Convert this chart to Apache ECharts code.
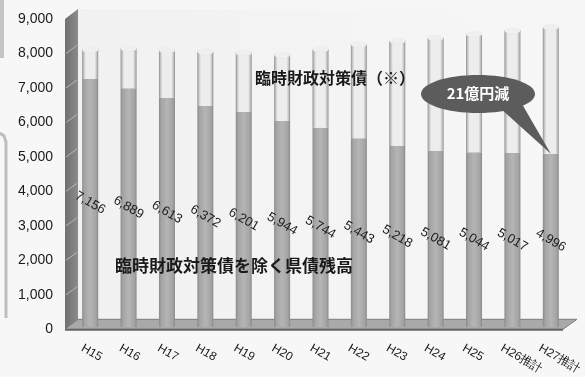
<!DOCTYPE html>
<html>
<head>
<meta charset="utf-8">
<script src="https://cdn.jsdelivr.net/npm/echarts@6/dist/echarts.min.js"></script>
<style>
  html, body { margin: 0; padding: 0; background: #f7f7f7; }
  #chart { width: 585px; height: 377px; }
</style>
</head>
<body>
<div id="chart"></div>
<script>
// Fiscal years (H = Heisei), with the last two being projections
const categories = ['H15', 'H16', 'H17', 'H18', 'H19', 'H20', 'H21', 'H22', 'H23', 'H24', 'H25', 'H26推計', 'H27推計'];
// Prefectural bond balance excluding temporary fiscal measure bonds (億円)
const baseDebt = [7156, 6889, 6613, 6372, 6201, 5944, 5744, 5443, 5218, 5081, 5044, 5017, 4996];
// Temporary fiscal measure bonds (臨時財政対策債)
const specialDebt = [854, 1151, 1387, 1578, 1719, 1916, 2276, 2717, 3042, 3269, 3416, 3543, 3664];
// Value axis ticks
const yMin = 0, yMax = 9000, yStep = 1000;

const totals = baseDebt.map((v, i) => v + specialDebt[i]);

const chart = echarts.init(document.getElementById('chart'), null, { renderer: 'canvas' });

const fontLatin = '"Liberation Sans", Arial, sans-serif';
const fontJa = '"Noto Sans CJK JP", sans-serif';

const darkFill = new echarts.graphic.LinearGradient(0, 0, 1, 0, [
  { offset: 0, color: '#8a8a8a' },
  { offset: 0.14, color: '#a4a4a4' },
  { offset: 0.5, color: '#b5b5b5' },
  { offset: 0.86, color: '#a4a4a4' },
  { offset: 1, color: '#8a8a8a' }
]);
const lightFill = new echarts.graphic.LinearGradient(0, 0, 1, 0, [
  { offset: 0, color: '#8e8e8e' },
  { offset: 0.1, color: '#c4c4c4' },
  { offset: 0.22, color: '#ededed' },
  { offset: 0.78, color: '#ededed' },
  { offset: 0.9, color: '#c4c4c4' },
  { offset: 1, color: '#8e8e8e' }
]);

chart.setOption({
  backgroundColor: '#f7f7f7',
  animation: false,
  grid: [
    // front face: carries the axis labels
    { left: 63, right: 23, top: 19, bottom: 45 },
    // depth plane where the cylinders stand
    { left: 71, right: 15, top: 15, bottom: 50 }
  ],
  xAxis: [
    {
      gridIndex: 0, type: 'category', data: categories,
      axisLine: { show: false }, axisTick: { show: false },
      axisLabel: {
        rotate: -30, margin: 18, interval: 0,
        color: '#1a1a1a', fontSize: 12, fontFamily: fontLatin
      }
    },
    {
      gridIndex: 1, type: 'category', data: categories,
      axisLine: { show: false }, axisTick: { show: false }, axisLabel: { show: false }
    }
  ],
  yAxis: [
    {
      gridIndex: 0, type: 'value', min: yMin, max: yMax, interval: yStep,
      axisLine: { show: false }, axisTick: { show: false }, splitLine: { show: false },
      axisLabel: {
        margin: 10, color: '#1a1a1a', fontSize: 14, fontFamily: fontLatin,
        formatter: v => v.toLocaleString('en-US')
      }
    },
    {
      gridIndex: 1, type: 'value', min: yMin, max: yMax, interval: yStep,
      axisLine: { show: false }, axisTick: { show: false }, splitLine: { show: false },
      axisLabel: { show: false }
    }
  ],
  series: [
    {
      name: '臨時財政対策債を除く県債残高',
      type: 'bar', xAxisIndex: 1, yAxisIndex: 1, stack: 'debt',
      barWidth: 16, data: baseDebt, z: 3,
      itemStyle: { color: darkFill },
      label: {
        show: true, position: 'inside', rotate: -30,
        color: '#1a1a1a', fontSize: 13, fontFamily: fontLatin,
        formatter: p => p.value.toLocaleString('en-US')
      }
    },
    {
      name: '臨時財政対策債（※）',
      type: 'bar', xAxisIndex: 1, yAxisIndex: 1, stack: 'debt',
      barWidth: 16, data: specialDebt, z: 3,
      itemStyle: { color: lightFill }
    },
    {
      // cylinder caps
      type: 'pictorialBar', xAxisIndex: 1, yAxisIndex: 1,
      symbol: 'circle', symbolSize: [16, 6], symbolPosition: 'end',
      symbolOffset: [0, '-50%'], data: totals, z: 4,
      itemStyle: { color: '#efefef', borderColor: '#8a8a8a', borderWidth: 1.5 }
    }
  ]
});

// 3D wall, floor and annotations positioned from the axes
function px(grid, cat, val) {
  return chart.convertToPixel({ xAxisIndex: grid, yAxisIndex: grid }, [cat, val]);
}
const front0 = px(0, 0, 0)[1];         // front edge of the floor
const front9 = px(0, 0, yMax)[1];      // top of the front wall edge
const wallX0 = 65, wallX1 = 78, depth = 10;
const floorRight = 577;

const wallTicks = [];
for (let v = yStep; v < yMax; v += yStep) {
  const y = px(0, 0, v)[1];
  wallTicks.push({
    type: 'line', silent: true, z: 2,
    shape: { x1: wallX0 + 1, y1: y, x2: wallX1 - 1, y2: y - depth + 2 },
    style: { stroke: '#b8b8b8', lineWidth: 1 }
  });
}

const tip = px(1, 12, baseDebt[12]);

chart.setOption({
  graphic: [
    // back wall
    {
      type: 'rect', silent: true, z: 0,
      shape: { x: wallX1, y: front9 - depth, width: floorRight - wallX1, height: front0 - front9 },
      style: {
        fill: new echarts.graphic.LinearGradient(0, 0, 1, 0, [
          { offset: 0, color: '#f1f1f1' }, { offset: 1, color: '#f7f7f7' }
        ])
      }
    },
    // left wall
    {
      type: 'polygon', silent: true, z: 1,
      shape: { points: [[wallX0, front0], [wallX0, front9], [wallX1, front9 - depth], [wallX1, front0 - depth]] },
      style: {
        fill: new echarts.graphic.LinearGradient(0, 0, 1, 0, [
          { offset: 0, color: '#6f6f6f' }, { offset: 1, color: '#8c8c8c' }
        ])
      }
    },
    ...wallTicks,
    // floor
    {
      type: 'polygon', silent: true, z: 1,
      shape: { points: [[wallX0, front0], [wallX1, front0 - depth], [floorRight, front0 - depth], [floorRight - 14, front0]] },
      style: { fill: '#a9a9a9', stroke: '#7c7c7c', lineWidth: 1 }
    },
    {
      type: 'line', silent: true, z: 1,
      shape: { x1: wallX0, y1: front0 + 0.5, x2: floorRight - 14, y2: front0 + 0.5 },
      style: { stroke: '#666', lineWidth: 2 }
    },
    // page edge remnants on the left
    {
      type: 'rect', silent: true, z: 0,
      shape: { x: 0, y: 0, width: 4, height: 58 },
      style: { fill: '#c4c4c4' }
    },
    {
      type: 'polyline', silent: true, z: 0,
      shape: { points: [[0, 133], [4, 136], [6, 142], [6, 318]] },
      style: { stroke: '#bdbdbd', lineWidth: 3, fill: null }
    },
    // series captions
    {
      type: 'text', silent: true, z: 10,
      style: {
        x: 255, y: 78, text: '臨時財政対策債（※）', fill: '#1a1a1a',
        font: 'bold 16px ' + fontJa, verticalAlign: 'middle'
      }
    },
    {
      type: 'text', silent: true, z: 10,
      style: {
        x: 115, y: 266, text: '臨時財政対策債を除く県債残高', fill: '#1a1a1a',
        font: 'bold 17px ' + fontJa, verticalAlign: 'middle'
      }
    },
    // callout bubble
    {
      type: 'polygon', silent: true, z: 11,
      shape: { points: [[500, 108], [522, 104], tip] },
      style: { fill: '#5c5c5c' }
    },
    {
      type: 'ellipse', silent: true, z: 11,
      shape: { cx: 478, cy: 94, rx: 57, ry: 19 },
      style: { fill: '#5c5c5c' }
    },
    {
      type: 'text', silent: true, z: 12,
      style: {
        x: 478, y: 93, text: '21億円減', fill: '#ffffff',
        font: 'bold 15px ' + fontJa, align: 'center', verticalAlign: 'middle'
      }
    }
  ]
});
</script>
</body>
</html>
